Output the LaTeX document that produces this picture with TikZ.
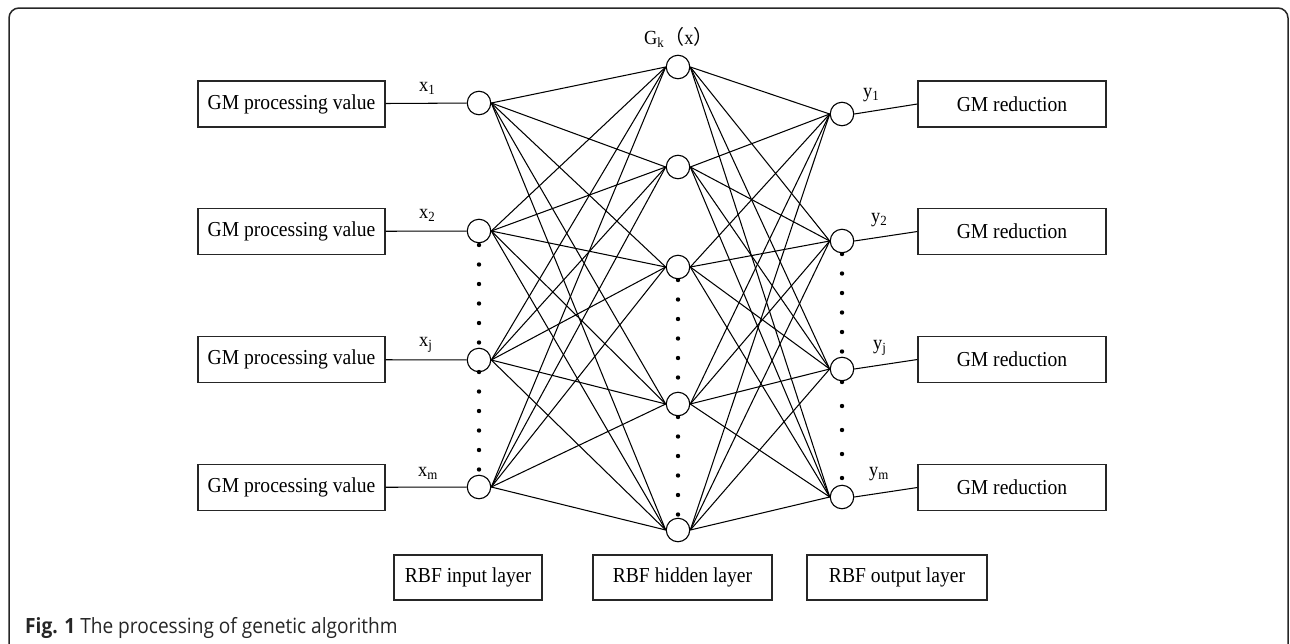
\documentclass[tikz,border=0pt]{standalone}
\usepackage{fontspec}
\setmainfont[FakeStretch=0.92]{Liberation Serif}
\newfontfamily\capfont[FakeStretch=0.91]{Open Sans}
\newfontfamily\cjk{Noto Sans CJK SC}
\begin{document}
\begin{tikzpicture}[x=1pt,y=-1pt,
  box/.style={draw=black!85, line width=1.2pt, inner sep=0pt, font=\fontsize{21.3}{24}\selectfont},
  neuron/.style={circle, draw, line width=1.1pt, minimum size=23.5pt, inner sep=0pt},
  link/.style={line width=1.05pt},
  lab/.style={anchor=base west, inner sep=0pt, font=\fontsize{20}{22}\selectfont},
  frame/.style={line width=1.5pt, draw=black!85, rounded corners=10pt}]
\useasboundingbox (0,0) rectangle (1290,643);
\draw[frame] (9,660) -- (9,8) -- (1288,8) -- (1288,660);

% input boxes
\node[box, minimum width=187pt, minimum height=46pt] (in1) at (291.5,104) {GM processing value};
\node[box, minimum width=187pt, minimum height=46pt] (in2) at (291.5,231.5) {GM processing value};
\node[box, minimum width=187pt, minimum height=46pt] (inj) at (291.5,359.5) {GM processing value};
\node[box, minimum width=187pt, minimum height=46pt] (inm) at (291.5,487.5) {GM processing value};

% output boxes
\node[box, minimum width=188pt, minimum height=46pt] (out1) at (1012,104) {GM reduction};
\node[box, minimum width=188pt, minimum height=46pt] (out2) at (1012,231.5) {GM reduction};
\node[box, minimum width=188pt, minimum height=46pt] (outj) at (1012,359.5) {GM reduction};
\node[box, minimum width=188pt, minimum height=46pt] (outm) at (1012,487.5) {GM reduction};

% layer boxes
\node[box, minimum width=148pt, minimum height=45pt] (Lin) at (468,577.5) {RBF input layer};
\node[box, minimum width=179pt, minimum height=45pt] (Lhid) at (682.5,577.5) {RBF hidden layer};
\node[box, minimum width=180pt, minimum height=45pt] (Lout) at (897,577.5) {RBF output layer};

% neurons
\node[neuron] (x1) at (479,103) {};
\node[neuron] (x2) at (479,231) {};
\node[neuron] (xj) at (479,360) {};
\node[neuron] (xm) at (479,487) {};

\node[neuron] (h1) at (678,67) {};
\node[neuron] (h2) at (678,167) {};
\node[neuron] (h3) at (678,267) {};
\node[neuron] (h4) at (678,404) {};
\node[neuron] (h5) at (678,530) {};

\node[neuron] (o1) at (842,114) {};
\node[neuron] (o2) at (842,241) {};
\node[neuron] (oj) at (842,369) {};
\node[neuron] (om) at (842,497) {};

% connections
\draw[link] (in1) -- (x1);
\draw[link] (in2) -- (x2);
\draw[link] (inj) -- (xj);
\draw[link] (inm) -- (xm);
\foreach \i in {x1,x2,xj,xm}
  \foreach \h in {h1,h2,h3,h4,h5}
    \draw[link] (\i.east) -- (\h.west);
\foreach \h in {h1,h2,h3,h4,h5}
  \foreach \o in {o1,o2,oj,om}
    \draw[link] (\h.east) -- (\o.west);
\draw[link] (o1.east) -- (out1.west);
\draw[link] (o2.east) -- (out2.west);
\draw[link] (oj.east) -- (outj.west);
\draw[link] (om.east) -- (outm.west);

% dots
\foreach \y in {245,264.5,284,303.5,323,342.5,372,391.5,411,430.5,450,469.5}
  \fill (479,\y) circle[radius=2.2pt];
\foreach \y in {280,299.5,319,338.5,358,377.5,417,436.5,456,475.5,495,514.5}
  \fill (678,\y) circle[radius=2.2pt];
\foreach \y in {254,273.5,293,312.5,332,351.5,382,406,430,454,478}
  \fill (842,\y) circle[radius=2.2pt];

% labels
\node[lab] (lx1) at (419,91) {x\textsubscript{1}};
\node[lab] (lx2) at (419,218.5) {x\textsubscript{2}};
\node[lab] (lxj) at (419,346) {x\textsubscript{j}};
\node[lab] (lxm) at (418,476) {x\textsubscript{m}};
\node[lab] (ly1) at (863,97) {y\textsubscript{1}};
\node[lab] (ly2) at (871,222) {y\textsubscript{2}};
\node[lab] (lyj) at (873,349) {y\textsubscript{j}};
\node[lab] (lym) at (869,476) {y\textsubscript{m}};
\node[lab] (lg) at (644,44) {G\textsubscript{k}{\cjk （}x{\cjk ）}};

% caption
\node[anchor=base west, inner sep=0pt, font=\capfont\fontsize{21}{24}\selectfont, text=black!85] (cap) at (25,633) {\textbf{Fig. 1} The processing of genetic algorithm};
\end{tikzpicture}
\end{document}
